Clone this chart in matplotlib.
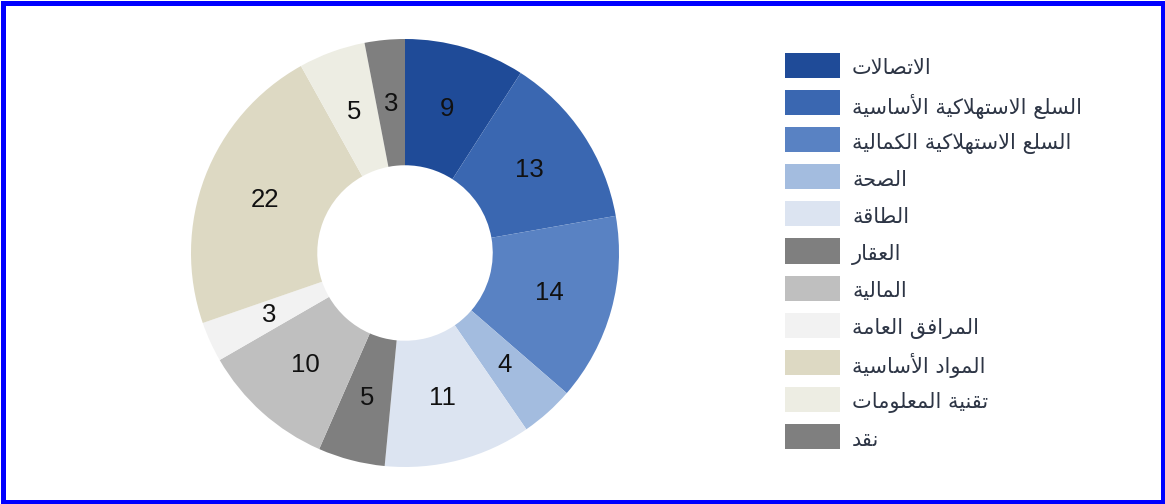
import matplotlib.pyplot as plt
from matplotlib.patches import Rectangle

# sector weights (%), clockwise from 12 o'clock
SECTORS = [
    "الاتصالات",
    "السلع الاستهلاكية الأساسية",
    "السلع الاستهلاكية الكمالية",
    "الصحة",
    "الطاقة",
    "العقار",
    "المالية",
    "المرافق العامة",
    "المواد الأساسية",
    "تقنية المعلومات",
    "نقد",
]
WEIGHTS = [9, 13, 14, 4, 11, 5, 10, 3, 22, 5, 3]
COLORS = [
    "#1f4b98", "#3a67b1", "#5982c3", "#a3bcdf", "#dce4f1", "#7f7f7f",
    "#bfbfbf", "#f2f2f2", "#ddd9c3", "#ededE3", "#7f7f7f",
]

# matplotlib has no Arabic shaping, so map letters to presentation forms
# (isolated base codepoint, dual-joining?)
FORMS = {
    "ا": (0xFE8D, False), "أ": (0xFE83, False), "ة": (0xFE93, False),
    "ت": (0xFE95, True), "ح": (0xFEA1, True), "د": (0xFEA9, False),
    "ر": (0xFEAD, False), "س": (0xFEB1, True), "ص": (0xFEB9, True),
    "ط": (0xFEC1, True), "ع": (0xFEC9, True), "ف": (0xFED1, True),
    "ق": (0xFED5, True), "ك": (0xFED9, True), "ل": (0xFEDD, True),
    "م": (0xFEE1, True), "ن": (0xFEE5, True), "ه": (0xFEE9, True),
    "و": (0xFEED, False), "ي": (0xFEF1, True),
}
LAM_ALEF = {"ا": 0xFEFB, "أ": 0xFEF7}


def shape(text):
    out = []
    i = 0
    n = len(text)
    while i < n:
        c = text[i]
        if c not in FORMS:
            out.append(c)
            i += 1
            continue
        prev = text[i - 1] if i > 0 else ""
        joins_prev = prev in FORMS and FORMS[prev][1]
        nxt = text[i + 1] if i + 1 < n else ""
        if c == "ل" and nxt in LAM_ALEF:
            out.append(chr(LAM_ALEF[nxt] + (1 if joins_prev else 0)))
            i += 2
            continue
        base, dual = FORMS[c]
        joins_next = dual and nxt in FORMS
        if joins_prev and joins_next:
            off = 3
        elif joins_next:
            off = 2
        elif joins_prev:
            off = 1
        else:
            off = 0
        out.append(chr(base + off))
        i += 1
    return "".join(reversed(out))


W, H = 1165, 504
fig = plt.figure(figsize=(W / 100, H / 100), dpi=100, facecolor="white")

cx, cy, r = 405, 253, 214
ax = fig.add_axes([(cx - r) / W, (H - cy - r) / H, 2 * r / W, 2 * r / H])

total = sum(WEIGHTS)
wedges, _, autotexts = ax.pie(
    WEIGHTS,
    colors=COLORS,
    startangle=90,
    counterclock=False,
    radius=1.0,
    wedgeprops=dict(width=0.59, linewidth=0),
    autopct=lambda p: f"{p * total / 100:.0f}",
    pctdistance=0.70,
    textprops=dict(fontsize=18.5, color="#111111", family="Liberation Sans"),
)
ax.set_xlim(-1, 1)
ax.set_ylim(-1, 1)
ax.set_aspect("equal")

# legend drawn by hand so that the rows keep an even pitch
box_x, box_w, box_h = 785, 55, 25
top0, pitch = 53, 37.1
for i, (name, color) in enumerate(zip(SECTORS, COLORS)):
    top = top0 + i * pitch
    fig.add_artist(Rectangle((box_x / W, 1 - (top + box_h) / H), box_w / W, box_h / H,
                             transform=fig.transFigure, facecolor=color,
                             edgecolor="none"))
    fig.text((box_x + box_w + 12) / W, 1 - (top + box_h / 2 + 1) / H, shape(name),
             ha="left", va="center_baseline", fontsize=15, family="DejaVu Sans",
             color="#2d3545")

# blue frame around the picture
fig.add_artist(Rectangle((2.5 / W, 2.5 / H), 1 - 5 / W, 1 - 5 / H,
                         transform=fig.transFigure, fill=False,
                         edgecolor="#0000ff", linewidth=3.6))

fig.savefig("out.png", dpi=100, facecolor="white")
